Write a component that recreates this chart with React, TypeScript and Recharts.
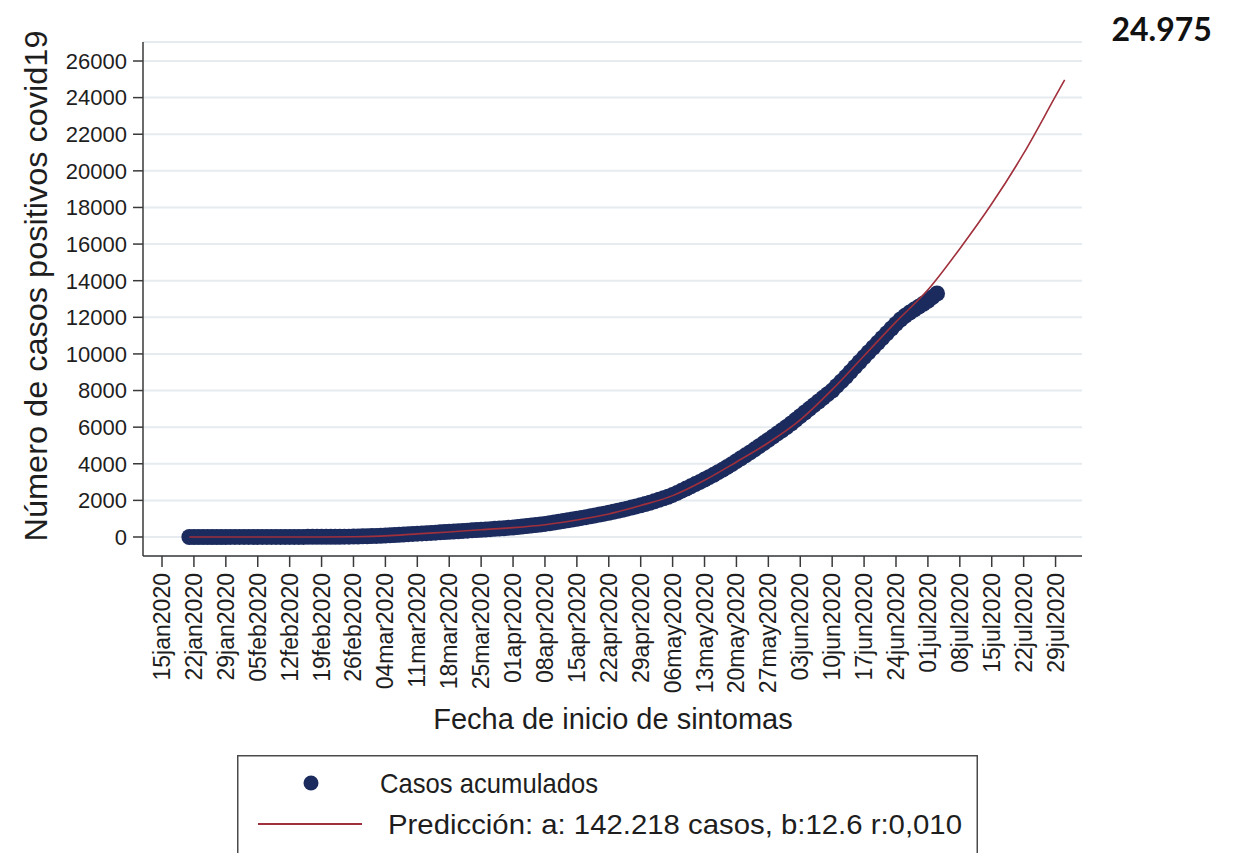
import React from "react";
import {
  ComposedChart,
  Scatter,
  XAxis,
  YAxis,
  CartesianGrid,
  ReferenceDot,
  Label,
  Legend,
} from "recharts";

const FONT = "'Liberation Sans', Arial, sans-serif";
const NAVY = "#1b2b5e";
const RED = "#a0303c";
const INK = "#1e1e1e";

// x values are days counted from 15jan2020
const tickDays = [0, 7, 14, 21, 28, 35, 42, 49, 56, 63, 70, 77, 84, 91, 98, 105, 112, 119, 126, 133, 140, 147, 154, 161, 168, 175, 182, 189, 196];
const tickLabels = [
  "15jan2020", "22jan2020", "29jan2020", "05feb2020", "12feb2020", "19feb2020", "26feb2020",
  "04mar2020", "11mar2020", "18mar2020", "25mar2020", "01apr2020", "08apr2020", "15apr2020",
  "22apr2020", "29apr2020", "06may2020", "13may2020", "20may2020", "27may2020", "03jun2020",
  "10jun2020", "17jun2020", "24jun2020", "01jul2020", "08jul2020", "15jul2020", "22jul2020", "29jul2020",
];
const yTicks = [0, 2000, 4000, 6000, 8000, 10000, 12000, 14000, 16000, 18000, 20000, 22000, 24000, 26000];

// daily cumulative cases, first point on 21jan2020 (day 6) up to 03jul2020
const firstCaseDay = 6;
const caseValues = [
  0, 0, 0, 0, 1, 1, 1, 1, 1, 2,
  2, 2, 2, 3, 3, 3, 3, 4, 4, 4,
  4, 5, 5, 5, 6, 6, 7, 7, 8, 9,
  10, 11, 12, 14, 16, 19, 23, 28, 34, 41,
  49, 58, 68, 80, 93, 107, 122, 137, 152, 167,
  182, 196, 210, 224, 238, 253, 268, 283, 299, 315,
  331, 347, 363, 379, 395, 411, 427, 444, 461, 478,
  500, 520, 545, 570, 595, 622, 650, 680, 715, 752,
  790, 830, 870, 910, 950, 995, 1040, 1085, 1132, 1180,
  1228, 1276, 1326, 1378, 1432, 1488, 1546, 1606, 1668, 1732,
  1800, 1872, 1948, 2028, 2112, 2200, 2300, 2410, 2530, 2650,
  2770, 2890, 3010, 3140, 3270, 3400, 3540, 3680, 3830, 3980,
  4140, 4300, 4460, 4620, 4790, 4960, 5130, 5300, 5480, 5660,
  5830, 6010, 6200, 6400, 6600, 6800, 7000, 7200, 7400, 7600,
  7800, 8000, 8250, 8500, 8750, 9020, 9290, 9560, 9830, 10090,
  10350, 10610, 10870, 11130, 11390, 11640, 11880, 12080, 12260, 12420,
  12580, 12740, 12900, 13100, 13300,
];

// fitted prediction, through 31jul2020
const predDays = [6, 14, 21, 28, 35, 42, 49, 56, 63, 70, 77, 84, 91, 98, 105, 112, 119, 126, 133, 140, 147, 154, 161, 168, 175, 182, 189, 196, 198];
const predValues = [0, 0, 0, 0, 0, 15, 60, 170, 275, 400, 510, 670, 930, 1260, 1720, 2260, 3100, 4100, 5150, 6400, 8050, 9900, 11750, 13500, 15750, 18200, 20950, 24080, 24975];

const seriesNames = ["Casos acumulados", "Predicción: a: 142.218 casos, b:12.6 r:0,010"];
const finalLabel = "24.975";

const caseData = caseValues.map((v, i) => ({ day: firstCaseDay + i, casos: v }));
const predData = predDays.map((d, i) => ({ day: d, pred: predValues[i] }));

const DateTick = (props: any) => {
  const { x, y, payload } = props;
  const label = tickLabels[tickDays.indexOf(payload.value)];
  const bx = x + 8;
  return (
    <text
      x={bx}
      y={y}
      transform={`rotate(-90 ${bx} ${y})`}
      textAnchor="end"
      fontSize={23}
      fontFamily={FONT}
      fill={INK}
    >
      {label}
    </text>
  );
};

const Dot = (props: any) => <circle cx={props.cx} cy={props.cy} r={8} fill={NAVY} />;
const NoDot = () => <g />;

const LegendBox = () => (
  <svg width={741} height={120} style={{ display: "block" }}>
    <rect x={0.75} y={0.75} width={739.5} height={130} fill="#fff" stroke="#4a4a4a" strokeWidth={1.5} />
    <circle cx={74} cy={28} r={7.5} fill={NAVY} />
    <text x={143} y={38} fontSize={28} textLength={218} lengthAdjust="spacingAndGlyphs" fontFamily={FONT} fill={INK}>
      {seriesNames[0]}
    </text>
    <line x1={21} x2={125} y1={69} y2={69} stroke={RED} strokeWidth={2} />
    <text x={151} y={79} fontSize={28} textLength={574} lengthAdjust="spacingAndGlyphs" fontFamily={FONT} fill={INK}>
      {seriesNames[1]}
    </text>
  </svg>
);

export default function App() {
  return (
    <div style={{ position: "absolute", left: 0, top: 0, width: 1234, height: 853, overflow: "hidden", background: "#fff" }}>
      <ComposedChart width={1234} height={853} margin={{ top: 42, right: 152, bottom: 0, left: 0 }}>
        <CartesianGrid horizontal vertical={false} stroke="#e6ebef" strokeWidth={2} />
        <XAxis
          type="number"
          dataKey="day"
          domain={[-4.17, 201.8]}
          allowDataOverflow
          ticks={tickDays}
          interval={0}
          height={297}
          tickSize={11}
          tickMargin={6}
          tick={<DateTick />}
          stroke="#3a3a3a"
          strokeWidth={1.5}
        >
          <Label
            content={() => (
              <text x={613} y={729} textAnchor="middle" fontSize={29} fontFamily={FONT} fill={INK}>
                Fecha de inicio de sintomas
              </text>
            )}
          />
        </XAxis>
        <YAxis
          type="number"
          domain={[-1038, 27038]}
          allowDataOverflow
          ticks={yTicks}
          interval={0}
          width={143}
          tickSize={10}
          tickMargin={6}
          tick={{ fontSize: 22, fill: INK, fontFamily: FONT }}
          stroke="#3a3a3a"
          strokeWidth={1.5}
        >
          <Label
            content={() => (
              <text
                x={47}
                y={286}
                transform="rotate(-90 47 286)"
                textAnchor="middle"
                fontSize={31}
                textLength={511}
                lengthAdjust="spacingAndGlyphs"
                fontFamily={FONT}
                fill={INK}
              >
                Número de casos positivos covid19
              </text>
            )}
          />
        </YAxis>
        <Scatter data={caseData} dataKey="casos" name={seriesNames[0]} fill={NAVY} shape={<Dot />} isAnimationActive={false} />
        <Scatter
          data={predData}
          dataKey="pred"
          name={seriesNames[1]}
          fill={RED}
          line={{ stroke: RED, strokeWidth: 1.6 }}
          lineJointType="monotoneX"
          shape={<NoDot />}
          isAnimationActive={false}
        />
        <ReferenceDot
          x={198}
          y={24975}
          r={0}
          fill="none"
          stroke="none"
          label={{
            content: (p: any) => (
              <text
                x={p.viewBox.x + 97}
                y={p.viewBox.y - 39}
                textAnchor="middle"
                fontSize={32}
                fontWeight={700}
                fontFamily="Lato, 'Open Sans', sans-serif"
                fill="#111"
              >
                {finalLabel}
              </text>
            ),
          }}
        />
        <Legend
          layout="horizontal"
          verticalAlign="middle"
          align="center"
          content={() => <LegendBox />}
          wrapperStyle={{ left: 237, top: 755, width: 741, height: 120 }}
        />
      </ComposedChart>
    </div>
  );
}
